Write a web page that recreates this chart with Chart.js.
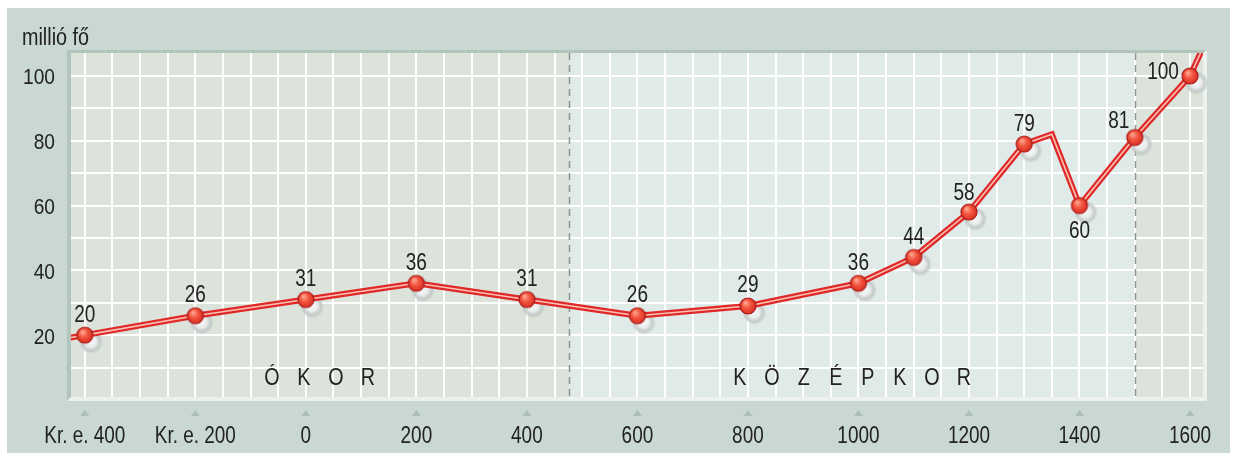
<!DOCTYPE html>
<html lang="hu">
<head>
<meta charset="utf-8">
<title>Európa népessége</title>
<script src="https://cdn.jsdelivr.net/npm/chart.js@4/dist/chart.umd.min.js"></script>
<style>
  html, body { margin: 0; padding: 0; background: #fff; }
  #wrap { width: 1233px; height: 453px; }
</style>
</head>
<body>
<div id="wrap"><canvas id="popChart" width="1233" height="453"></canvas></div>
<script>
// population in millions, marked points
const years = [-400, -200, 0, 200, 400, 600, 800, 1000, 1100, 1200, 1300, 1400, 1500, 1600];
const population = [20, 26, 31, 36, 31, 26, 29, 36, 44, 58, 79, 60, 81, 100];
// where each value label sits relative to its point
const labelSide = ['above', 'above', 'above', 'above', 'above', 'above', 'above', 'above',
  'above', 'aboveLeft', 'above', 'below', 'upLeft', 'left'];
// unmarked vertices of the curve (run-in, the 1350 peak, run-out)
const pathYears = [-450, 1350, 1640];
const pathValues = [18.5, 82, 115];
// eras and the years that separate them
const eraNames = ['ÓKOR', 'KÖZÉPKOR'];
const eraBounds = [476, 1500];
const yLabelValues = [20, 40, 60, 80, 100];
const xLabelYears = [-400, -200, 0, 200, 400, 600, 800, 1000, 1200, 1400, 1600];
const unitLabel = 'millió fő';

const FONT = "'Liberation Sans', Arial, sans-serif";
const INK = '#222222';
const FRAME = '#c9d8d2';
const ERA_DARK = '#dce3db';
const ERA_LIGHT = '#e0eae8';

function yearLabel(v) {
  return v < 0 ? 'Kr. e. ' + (-v) : String(v);
}

// condensed text: regular face squeezed horizontally
function narrowText(ctx, text, x, y, size, squeeze, align) {
  ctx.save();
  ctx.font = size + 'px ' + FONT;
  ctx.fillStyle = INK;
  ctx.textAlign = align || 'center';
  ctx.textBaseline = 'alphabetic';
  ctx.translate(x, y);
  ctx.scale(squeeze, 1);
  ctx.fillText(text, 0, 0);
  ctx.restore();
}

// merged path for the line itself
const linePoints = years.map((x, i) => ({ x, y: population[i] }))
  .concat(pathYears.map((x, i) => ({ x, y: pathValues[i] })))
  .sort((a, b) => a.x - b.x);

// gradient dot used as the point style
function makeDot() {
  const c = document.createElement('canvas');
  c.width = 20; c.height = 20;
  const g = c.getContext('2d');
  const grad = g.createRadialGradient(7.5, 6.5, 0.5, 10, 10, 9);
  grad.addColorStop(0, '#ffa893');
  grad.addColorStop(0.45, '#f3553f');
  grad.addColorStop(1, '#d42820');
  g.beginPath();
  g.arc(10, 10, 8, 0, Math.PI * 2);
  g.fillStyle = grad;
  g.fill();
  g.lineWidth = 1.2;
  g.strokeStyle = '#a61a17';
  g.stroke();
  return c;
}

const backdrop = {
  id: 'backdrop',
  beforeDraw(chart) {
    const { ctx, chartArea: a, scales: { x } } = chart;
    ctx.save();
    ctx.fillStyle = '#fff';
    ctx.fillRect(0, 0, chart.width, chart.height);
    ctx.fillStyle = FRAME;
    ctx.fillRect(7, 8, 1223, chart.height - 8);

    // era bands
    const b1 = x.getPixelForValue(eraBounds[0]);
    const b2 = x.getPixelForValue(eraBounds[1]);
    ctx.fillStyle = ERA_DARK;
    ctx.fillRect(a.left, a.top, b1 - a.left, a.bottom - a.top);
    ctx.fillRect(b2, a.top, a.right - b2, a.bottom - a.top);
    ctx.fillStyle = ERA_LIGHT;
    ctx.fillRect(b1, a.top, b2 - b1, a.bottom - a.top);

    // inset bevel
    const o = 4;
    ctx.fillStyle = '#b1c5bd';
    ctx.beginPath();
    ctx.moveTo(a.left - o, a.top - 3);
    ctx.lineTo(a.right + o, a.top - 3);
    ctx.lineTo(a.right, a.top);
    ctx.lineTo(a.left, a.top);
    ctx.lineTo(a.left, a.bottom);
    ctx.lineTo(a.left - o, a.bottom + o);
    ctx.closePath();
    ctx.fill();
    ctx.fillStyle = '#edf2ef';
    ctx.beginPath();
    ctx.moveTo(a.right + o, a.top - 3);
    ctx.lineTo(a.right + o, a.bottom + o);
    ctx.lineTo(a.left - o, a.bottom + o);
    ctx.lineTo(a.left, a.bottom);
    ctx.lineTo(a.right, a.bottom);
    ctx.lineTo(a.right, a.top);
    ctx.closePath();
    ctx.fill();
    ctx.restore();
  },
  beforeDatasetsDraw(chart) {
    const { ctx, chartArea: a, scales: { x } } = chart;
    ctx.save();
    // era boundaries
    ctx.strokeStyle = '#8c9394';
    ctx.lineWidth = 1.5;
    ctx.setLineDash([7, 5]);
    eraBounds.forEach(v => {
      const px = Math.round(x.getPixelForValue(v)) + 0.5;
      ctx.beginPath();
      ctx.moveTo(px, a.top);
      ctx.lineTo(px, a.bottom);
      ctx.stroke();
    });
    ctx.setLineDash([]);

    // era names, spaced letters centred in each band
    const edges = [a.left, x.getPixelForValue(eraBounds[0]), x.getPixelForValue(eraBounds[1])];
    eraNames.forEach((name, k) => {
      const mid = (edges[k] + edges[k + 1]) / 2;
      const chars = Array.from(name);
      chars.forEach((ch, i) => {
        narrowText(ctx, ch, mid + (i - (chars.length - 1) / 2) * 32, 385, 23.5, 0.84);
      });
    });

    // soft shadows under the dots
    const meta = chart.getDatasetMeta(2);
    meta.data.forEach(pt => {
      const sx = pt.x + 6.5, sy = pt.y + 7;
      const g = ctx.createRadialGradient(sx - 1, sy - 1, 0, sx, sy, 12);
      g.addColorStop(0, 'rgba(248,249,249,1)');
      g.addColorStop(0.45, 'rgba(234,237,237,1)');
      g.addColorStop(0.75, 'rgba(190,198,196,0.85)');
      g.addColorStop(1, 'rgba(190,198,196,0)');
      ctx.fillStyle = g;
      ctx.beginPath();
      ctx.arc(sx, sy, 12, 0, Math.PI * 2);
      ctx.fill();
    });
    ctx.restore();
  },
  afterDatasetsDraw(chart) {
    const meta = chart.getDatasetMeta(2);
    const shift = {
      above: [0, -22], below: [0, 24], aboveLeft: [-5, -21],
      upLeft: [-16, -18], left: [-27, -5]
    };
    meta.data.forEach((pt, i) => {
      const [dx, dy] = shift[labelSide[i]];
      narrowText(chart.ctx, String(population[i]), pt.x + dx, pt.y + dy + 8.5, 23.5, 0.81);
    });
  },
  afterDraw(chart) {
    const { ctx, chartArea: a, scales: { x, y } } = chart;
    ctx.save();
    // little tick arrows under the plot
    ctx.fillStyle = '#abbfb8';
    xLabelYears.forEach(v => {
      const px = x.getPixelForValue(v);
      ctx.beginPath();
      ctx.moveTo(px, a.bottom + 13);
      ctx.lineTo(px + 4.5, a.bottom + 19);
      ctx.lineTo(px - 4.5, a.bottom + 19);
      ctx.closePath();
      ctx.fill();
    });
    ctx.restore();

    xLabelYears.forEach(v => {
      narrowText(ctx, yearLabel(v), x.getPixelForValue(v), 443, 24, 0.79);
    });
    yLabelValues.forEach(v => {
      narrowText(ctx, String(v), 55, y.getPixelForValue(v) + 8.5, 22.5, 0.85, 'right');
    });
    narrowText(ctx, unitLabel, 22, 45, 23, 0.86, 'left');
  }
};

const dot = makeDot();

new Chart(document.getElementById('popChart'), {
  type: 'line',
  data: {
    datasets: [
      {
        data: linePoints,
        borderColor: '#e02828',
        borderWidth: 6,
        borderJoinStyle: 'miter',
        pointRadius: 0,
        tension: 0,
        order: 3
      },
      {
        data: linePoints,
        borderColor: '#f8c3b5',
        borderWidth: 1.6,
        borderJoinStyle: 'miter',
        pointRadius: 0,
        tension: 0,
        order: 2
      },
      {
        data: years.map((x, i) => ({ x, y: population[i] })),
        showLine: false,
        pointStyle: dot,
        pointRadius: 8,
        order: 1
      }
    ]
  },
  options: {
    responsive: false,
    animation: false,
    events: [],
    layout: { padding: { left: 0, top: 53, right: 30, bottom: 0 } },
    plugins: { legend: { display: false }, tooltip: { enabled: false } },
    scales: {
      x: {
        type: 'linear',
        min: -425,
        max: 1623.5,
        afterFit(scale) {
          scale.height = 56;
          scale.paddingLeft = 0;
          scale.paddingRight = 0;
        },
        afterBuildTicks(scale) {
          const t = [];
          for (let v = -400; v <= 1600; v += 50) t.push({ value: v });
          scale.ticks = t;
        },
        grid: { color: '#ffffff', lineWidth: 2, drawTicks: false },
        border: { display: false },
        ticks: { display: false }
      },
      y: {
        min: 0.9,
        max: 107.1,
        afterFit(scale) {
          scale.width = 71;
          scale.paddingTop = 0;
          scale.paddingBottom = 0;
        },
        afterBuildTicks(scale) {
          const t = [];
          for (let v = 10; v <= 100; v += 10) t.push({ value: v });
          scale.ticks = t;
        },
        grid: { color: '#ffffff', lineWidth: 2, drawTicks: false },
        border: { display: false },
        ticks: { display: false }
      }
    }
  },
  plugins: [backdrop]
});
</script>
</body>
</html>
